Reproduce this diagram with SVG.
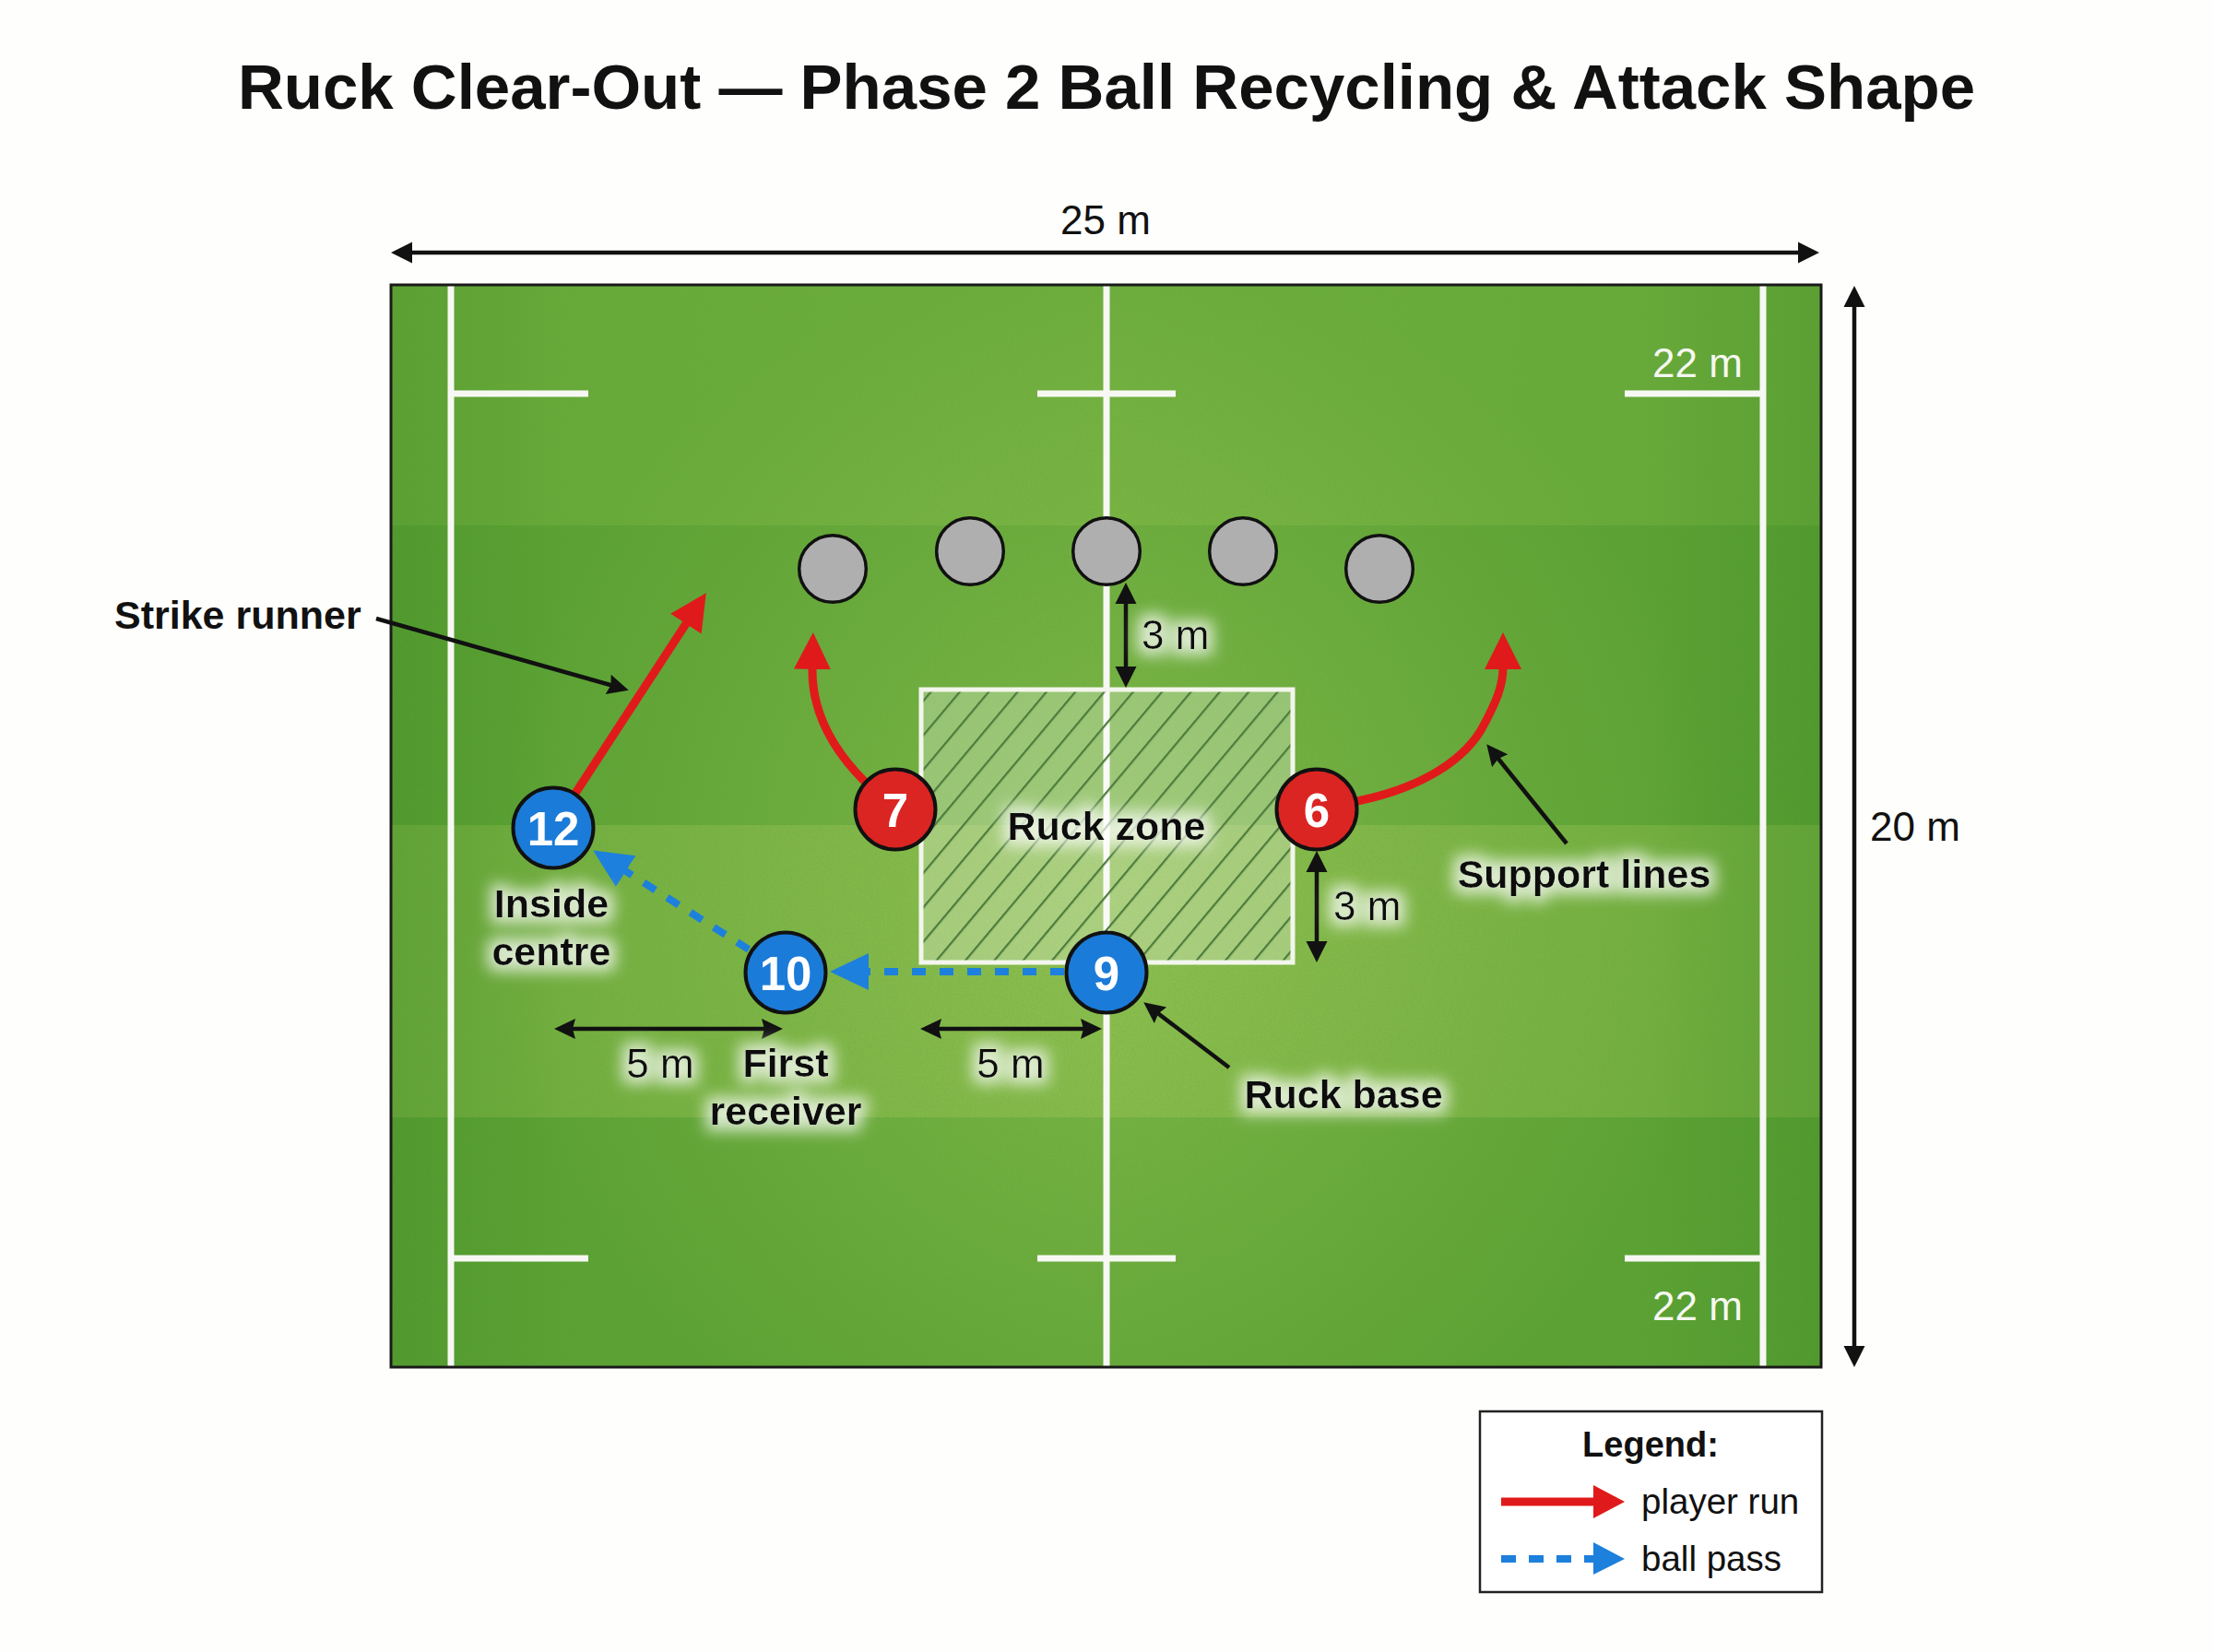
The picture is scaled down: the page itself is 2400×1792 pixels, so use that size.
<svg xmlns="http://www.w3.org/2000/svg" width="2400" height="1792" viewBox="0 0 2400 1792">
<style>
text{font-family:"Liberation Sans",Arial,sans-serif;fill:#111}
.b{font-weight:700}
.lab{font-size:43px;font-weight:700;text-anchor:middle;dominant-baseline:central;filter:url(#halo)}
.dim{font-size:44px;dominant-baseline:central}
.halo{filter:url(#halo)}
.mid{text-anchor:middle}
.num{font-size:51px;font-weight:700;fill:#fff;text-anchor:middle;dominant-baseline:central}
.wl{fill:#f6f8f1;font-size:44px;text-anchor:middle;dominant-baseline:central}
.line{stroke:#f7f8f3;stroke-width:7;fill:none}
.def{fill:#b0afaf;stroke:#111;stroke-width:3.5}
.blue{fill:#1b7bd8;stroke:#111;stroke-width:4}
.red{fill:#da2522;stroke:#111;stroke-width:4}
.run{fill:none;stroke:#e01a1a;stroke-width:9}
.pass{fill:none;stroke:#1d80dc;stroke-width:8;stroke-dasharray:15 15}
.ldr{fill:none;stroke:#111;stroke-width:4.5}
.dimln{fill:none;stroke:#111;stroke-width:4.5}
</style>
<defs>
<marker id="mr" markerUnits="userSpaceOnUse" markerWidth="44" markerHeight="44" refX="2" refY="21" orient="auto"><path d="M0,1L40,21L0,41Z" fill="#e01a1a"/></marker>
<marker id="mb" markerUnits="userSpaceOnUse" markerWidth="46" markerHeight="44" refX="2" refY="20" orient="auto"><path d="M0,0L42,20L0,40Z" fill="#1d80dc"/></marker>
<marker id="mk" markerUnits="userSpaceOnUse" markerWidth="26" markerHeight="26" refX="17" refY="12" orient="auto-start-reverse"><path d="M0,0.5L23,12L0,23.5Z" fill="#111"/></marker>
<marker id="ml" markerUnits="userSpaceOnUse" markerWidth="26" markerHeight="26" refX="17" refY="11" orient="auto-start-reverse"><path d="M0,0L23,11L0,22L3,11Z" fill="#111"/></marker>
<pattern id="hatch" patternUnits="userSpaceOnUse" width="24" height="24" patternTransform="rotate(40 998 747)"><rect width="24" height="24" fill="#fff" fill-opacity=".27"/><line x1="0" y1="0" x2="0" y2="24" stroke="#4d7c3c" stroke-width="4.5"/></pattern>
<linearGradient id="edge" x1="0" x2="1" y1="0" y2="0"><stop offset="0" stop-color="#2f7f1e" stop-opacity=".3"/><stop offset=".12" stop-color="#2f7f1e" stop-opacity=".08"/><stop offset=".5" stop-color="#2f7f1e" stop-opacity="0"/><stop offset=".88" stop-color="#2f7f1e" stop-opacity=".08"/><stop offset="1" stop-color="#2f7f1e" stop-opacity=".3"/></linearGradient>
<radialGradient id="glow" gradientUnits="userSpaceOnUse" cx="1200" cy="960" r="680"><stop offset="0" stop-color="#b2d568" stop-opacity=".4"/><stop offset="1" stop-color="#b2d568" stop-opacity="0"/></radialGradient>
<filter id="halo" x="-30%" y="-80%" width="160%" height="260%"><feMorphology in="SourceAlpha" operator="dilate" radius="7" result="d"/><feGaussianBlur in="d" stdDeviation="8" result="g"/><feFlood flood-color="#fff" flood-opacity=".72"/><feComposite in2="g" operator="in" result="h"/><feMerge><feMergeNode in="h"/><feMergeNode in="SourceGraphic"/></feMerge></filter>
<filter id="grain" x="0" y="0" width="100%" height="100%"><feTurbulence type="fractalNoise" baseFrequency="0.45" numOctaves="2" seed="4"/><feColorMatrix values="0 0 0 0 .15  0 0 0 0 .35  0 0 0 0 .05  0 0 0 1.4 -.55"/></filter>
</defs>
<rect width="2400" height="1792" fill="#fefefc"/>
<text x="1200" y="118" class="b mid" font-size="69" id="title">Ruck Clear-Out — Phase 2 Ball Recycling &amp; Attack Shape</text>
<g id="field">
<rect x="424" y="309" width="1551" height="1174" fill="#6cad3c"/>
<rect x="424" y="570" width="1551" height="325" fill="#5ea435"/>
<rect x="424" y="895" width="1551" height="317" fill="#76b141"/>
<rect x="424" y="1212" width="1551" height="271" fill="#5ea435"/>
<rect x="424" y="309" width="1551" height="1174" fill="url(#glow)"/>
<rect x="424" y="309" width="1551" height="1174" fill="url(#edge)"/>
<rect x="424" y="309" width="1551" height="1174" filter="url(#grain)" opacity=".35"/>
<path class="line" d="M489,309V1483M1200,309V1483M1912,309V1483M489,427H638M1125,427H1275M1762,427H1912M489,1365H638M1125,1365H1275M1762,1365H1912"/>
<rect x="424" y="309" width="1551" height="1174" fill="none" stroke="#1a1a1a" stroke-width="3"/>
</g>
<g id="ruck-zone"><rect x="999" y="748" width="403" height="296" fill="url(#hatch)" stroke="#f3f6ec" stroke-width="5"/></g>
<text class="wl" x="1841" y="393">22 m</text>
<text class="wl" x="1841" y="1416">22 m</text>
<g id="connectors">
<line class="dimln" x1="430" y1="274" x2="1967" y2="274" marker-start="url(#mk)" marker-end="url(#mk)"/>
<line class="dimln" x1="2011" y1="316" x2="2011" y2="1477" marker-start="url(#mk)" marker-end="url(#mk)"/>
<line class="dimln" x1="1221" y1="638" x2="1221" y2="740" marker-start="url(#mk)" marker-end="url(#mk)"/>
<line class="dimln" x1="1428" y1="929" x2="1428" y2="1038" marker-start="url(#mk)" marker-end="url(#mk)"/>
<line class="dimln" x1="607" y1="1116" x2="843" y2="1116" marker-start="url(#ml)" marker-end="url(#ml)"/>
<line class="dimln" x1="1004" y1="1116" x2="1189" y2="1116" marker-start="url(#ml)" marker-end="url(#ml)"/>
<line class="ldr" x1="408" y1="671" x2="676" y2="747" marker-end="url(#ml)"/>
<line class="ldr" x1="1333" y1="1158" x2="1245" y2="1091" marker-end="url(#ml)"/>
<line class="ldr" x1="1699" y1="915" x2="1616" y2="812" marker-end="url(#ml)"/>
<line class="run" x1="623" y1="862" x2="745" y2="675" marker-end="url(#mr)"/>
<path class="run" d="M938,848C900,810 880,770 881,724" marker-end="url(#mr)"/>
<path class="run" d="M1472,869C1540,855 1590,825 1610,785C1622,762 1630,745 1630,724" marker-end="url(#mr)"/>
<line class="pass" x1="812" y1="1030" x2="677" y2="944" marker-end="url(#mb)"/>
<line class="pass" x1="1154" y1="1054" x2="940" y2="1054" marker-end="url(#mb)"/>
</g>
<g id="def1"><circle class="def" cx="903" cy="617" r="36.3"/></g>
<g id="def2"><circle class="def" cx="1052" cy="598" r="36.3"/></g>
<g id="def3"><circle class="def" cx="1200" cy="598" r="36.3"/></g>
<g id="def4"><circle class="def" cx="1348" cy="598" r="36.3"/></g>
<g id="def5"><circle class="def" cx="1496" cy="617" r="36.3"/></g>
<g id="p12"><circle class="blue" cx="600" cy="898" r="43.5"/><text class="num" x="600" y="899">12</text></g>
<g id="p7"><circle class="red" cx="971" cy="878" r="43.5"/><text class="num" x="971" y="879">7</text></g>
<g id="p6"><circle class="red" cx="1428" cy="878" r="43.5"/><text class="num" x="1428" y="879">6</text></g>
<g id="p10"><circle class="blue" cx="852" cy="1055" r="43.5"/><text class="num" x="852" y="1056">10</text></g>
<g id="p9"><circle class="blue" cx="1200" cy="1055" r="43.5"/><text class="num" x="1200" y="1056">9</text></g>
<g id="labels">
<text class="dim mid" x="1199" y="238">25 m</text>
<text class="dim mid" x="2077" y="896">20 m</text>
<text class="dim halo" x="1238" y="688">3 m</text>
<text class="dim halo" x="1446" y="982">3 m</text>
<text class="dim mid halo" x="716" y="1153">5 m</text>
<text class="dim mid halo" x="1096" y="1153">5 m</text>
<text class="b" font-size="43" x="124" y="667" dominant-baseline="central">Strike runner</text>
<text class="lab" x="1200" y="896">Ruck zone</text>
<text class="lab" x="1718" y="948">Support lines</text>
<text class="lab" x="1457" y="1187">Ruck base</text>
<text class="lab" x="598" y="980">Inside</text>
<text class="lab" x="598" y="1032">centre</text>
<text class="lab" x="852" y="1153">First</text>
<text class="lab" x="852" y="1205">receiver</text>
</g>
<g id="legend">
<rect x="1605" y="1531" width="371" height="196" fill="#fff" stroke="#222" stroke-width="2.5"/>
<text class="b mid" font-size="38" x="1790" y="1580">Legend:</text>
<line class="run" x1="1628" y1="1629" x2="1730" y2="1629"/>
<path d="M1728,1611L1762,1629L1728,1647Z" fill="#e01a1a"/>
<line x1="1628" y1="1691" x2="1730" y2="1691" stroke="#1d80dc" stroke-width="8" stroke-dasharray="16 14"/>
<path d="M1728,1673L1762,1691L1728,1708Z" fill="#1d80dc"/>
<text font-size="38.5" x="1780" y="1642">player run</text>
<text font-size="38.5" x="1780" y="1704">ball pass</text>
</g>
</svg>
